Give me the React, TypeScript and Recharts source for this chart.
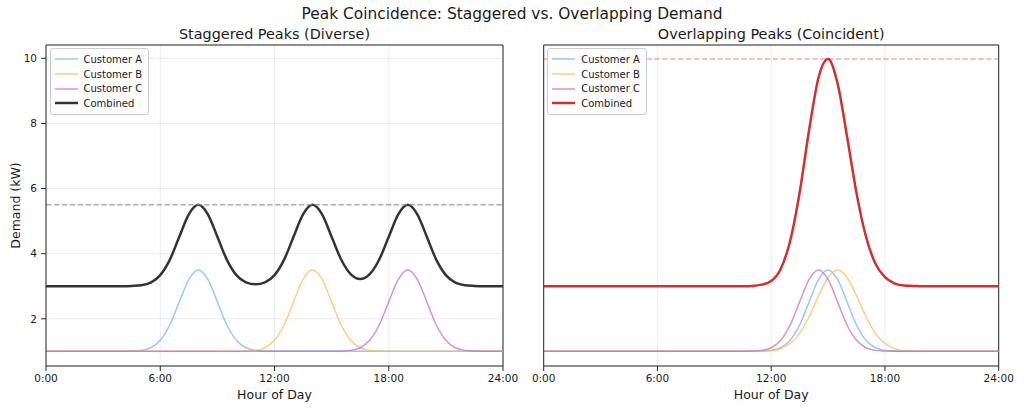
import React from 'react';
import {
  LineChart,
  Line,
  XAxis,
  YAxis,
  CartesianGrid,
  ReferenceLine,
  Legend,
} from 'recharts';

// Hour-of-day sample points (half-hour steps)
const HOURS = [
  0, 0.5, 1, 1.5, 2, 2.5, 3, 3.5,
  4, 4.5, 5, 5.5, 6, 6.5, 7, 7.5,
  8, 8.5, 9, 9.5, 10, 10.5, 11, 11.5,
  12, 12.5, 13, 13.5, 14, 14.5, 15, 15.5,
  16, 16.5, 17, 17.5, 18, 18.5, 19, 19.5,
  20, 20.5, 21, 21.5, 22, 22.5, 23, 23.5,
  24,
];

const X_TICKS = [0, 6, 12, 18, 24];
const Y_TICKS = [2, 4, 6, 8, 10];
const X_DOMAIN: [number, number] = [0, 24];
const Y_DOMAIN: [number, number] = [0.55, 10.41];

// Staggered demand (kW)
const STAG_A = [
  1, 1, 1, 1, 1, 1, 1, 1,
  1, 1.01, 1.03, 1.11, 1.34, 1.81, 2.52, 3.21,
  3.5, 3.21, 2.52, 1.81, 1.34, 1.11, 1.03, 1.01,
  1, 1, 1, 1, 1, 1, 1, 1,
  1, 1, 1, 1, 1, 1, 1, 1,
  1, 1, 1, 1, 1, 1, 1, 1,
  1,
];
const STAG_B = [
  1, 1, 1, 1, 1, 1, 1, 1,
  1, 1, 1, 1, 1, 1, 1, 1,
  1, 1, 1, 1, 1, 1.01, 1.03, 1.11,
  1.34, 1.81, 2.52, 3.21, 3.5, 3.21, 2.52, 1.81,
  1.34, 1.11, 1.03, 1.01, 1, 1, 1, 1,
  1, 1, 1, 1, 1, 1, 1, 1,
  1,
];
const STAG_C = [
  1, 1, 1, 1, 1, 1, 1, 1,
  1, 1, 1, 1, 1, 1, 1, 1,
  1, 1, 1, 1, 1, 1, 1, 1,
  1, 1, 1, 1, 1, 1, 1, 1.01,
  1.03, 1.11, 1.34, 1.81, 2.52, 3.21, 3.5, 3.21,
  2.52, 1.81, 1.34, 1.11, 1.03, 1.01, 1, 1,
  1,
];

// Overlapping demand (kW)
const OVER_A = [
  1, 1, 1, 1, 1, 1, 1, 1,
  1, 1, 1, 1, 1, 1, 1, 1,
  1, 1, 1, 1, 1, 1, 1, 1.01,
  1.03, 1.11, 1.34, 1.81, 2.52, 3.21, 3.5, 3.21,
  2.52, 1.81, 1.34, 1.11, 1.03, 1.01, 1, 1,
  1, 1, 1, 1, 1, 1, 1, 1,
  1,
];
const OVER_B = [
  1, 1, 1, 1, 1, 1, 1, 1,
  1, 1, 1, 1, 1, 1, 1, 1,
  1, 1, 1, 1, 1, 1, 1, 1.01,
  1.02, 1.08, 1.24, 1.55, 2.07, 2.71, 3.27, 3.5,
  3.27, 2.71, 2.07, 1.55, 1.24, 1.08, 1.02, 1.01,
  1, 1, 1, 1, 1, 1, 1, 1,
  1,
];
const OVER_C = [
  1, 1, 1, 1, 1, 1, 1, 1,
  1, 1, 1, 1, 1, 1, 1, 1,
  1, 1, 1, 1, 1, 1, 1.01, 1.03,
  1.11, 1.34, 1.81, 2.52, 3.21, 3.5, 3.21, 2.52,
  1.81, 1.34, 1.11, 1.03, 1.01, 1, 1, 1,
  1, 1, 1, 1, 1, 1, 1, 1,
  1,
];

const FONT = '"DejaVu Sans", Verdana, sans-serif';
const TEXT = '#1a1a1a';
const AXIS = '#262626';
const GRID = '#e6e6e6';

const COLOR_A = '#64B5F6';
const COLOR_B = '#FFB74D';
const COLOR_C = '#BA68C8';
const CUSTOMER_OPACITY = 0.7;

type Row = { hour: number; a: number; b: number; c: number; combined: number };

function buildRows(a: number[], b: number[], c: number[]): Row[] {
  return HOURS.map((hour, i) => ({
    hour,
    a: a[i],
    b: b[i],
    c: c[i],
    combined: +(a[i] + b[i] + c[i]).toFixed(3),
  }));
}

const hourLabel = (h: number) => `${h}:00`;

type LegendItem = { name: string; color: string; width: number; opacity: number };

function LegendBox({ items }: { items: LegendItem[] }) {
  return (
    <div
      style={{
        background: 'rgba(255,255,255,0.8)',
        border: '1px solid #cccccc',
        borderRadius: 3,
        padding: '3px 6px 3px 4px',
        fontFamily: FONT,
        fontSize: 10,
        color: TEXT,
        whiteSpace: 'nowrap',
      }}
    >
      {items.map((it) => (
        <div key={it.name} style={{ display: 'flex', alignItems: 'center', height: 14.7 }}>
          <svg width={23} height={6} style={{ display: 'block' }}>
            <line
              x1={0}
              x2={23}
              y1={3}
              y2={3}
              stroke={it.color}
              strokeOpacity={it.opacity}
              strokeWidth={it.width}
            />
          </svg>
          <span style={{ marginLeft: 6 }}>{it.name}</span>
        </div>
      ))}
    </div>
  );
}

type PanelProps = {
  rows: Row[];
  title: string;
  combinedColor: string;
  peakColor: string;
  peakOpacity: number;
  width: number;
  margin: { top: number; right: number; bottom: number; left: number };
  yAxisWidth: number;
  showYLabels: boolean;
};

function Panel({
  rows,
  title,
  combinedColor,
  peakColor,
  peakOpacity,
  width,
  margin,
  yAxisWidth,
  showYLabels,
}: PanelProps) {
  const peak = Math.max(...rows.map((r) => r.combined));
  const legendItems: LegendItem[] = [
    { name: 'Customer A', color: COLOR_A, width: 1.5, opacity: CUSTOMER_OPACITY },
    { name: 'Customer B', color: COLOR_B, width: 1.5, opacity: CUSTOMER_OPACITY },
    { name: 'Customer C', color: COLOR_C, width: 1.5, opacity: CUSTOMER_OPACITY },
    { name: 'Combined', color: combinedColor, width: 2.5, opacity: 1 },
  ];
  const tickStyle = { fontSize: 10.5, fill: TEXT, fontFamily: FONT };
  const plotLeft = margin.left + yAxisWidth;
  const plotWidth = width - plotLeft - margin.right;

  return (
    <div style={{ position: 'relative', width, height: 409 }}>
      <div
        style={{
          position: 'absolute',
          left: plotLeft,
          top: 26.2,
          width: plotWidth,
          textAlign: 'center',
          fontSize: 14.4,
          lineHeight: '16px',
          color: TEXT,
          whiteSpace: 'nowrap',
        }}
      >
        {title}
      </div>
      <LineChart
        width={width}
        height={409}
        data={rows}
        margin={margin}
        style={{ fontFamily: FONT }}
      >
        <CartesianGrid stroke={GRID} strokeWidth={0.8} />
        <XAxis
          dataKey="hour"
          type="number"
          domain={X_DOMAIN}
          ticks={X_TICKS}
          tickFormatter={hourLabel}
          allowDataOverflow
          height={40}
          tickSize={5}
          tickMargin={4}
          tick={tickStyle}
          stroke={AXIS}
          tickLine={{ stroke: AXIS }}
          axisLine={{ stroke: AXIS }}
          interval={0}
          label={{
            value: 'Hour of Day',
            position: 'insideBottom',
            offset: 7.5,
            fill: TEXT,
            fontSize: 12.5,
            fontFamily: FONT,
          }}
        />
        <YAxis
          type="number"
          domain={Y_DOMAIN}
          ticks={Y_TICKS}
          allowDataOverflow
          width={yAxisWidth}
          tickSize={5}
          tickMargin={4}
          tick={showYLabels ? tickStyle : false}
          tickLine={{ stroke: AXIS }}
          axisLine={{ stroke: AXIS }}
          interval={0}
          label={
            showYLabels
              ? {
                  value: 'Demand (kW)',
                  content: (props: any) => {
                    const vb = props.viewBox || { x: 0, y: 0, width: 0, height: 0 };
                    const cx = vb.x - 1;
                    const cy = vb.y + vb.height / 2;
                    return (
                      <text
                        x={cx}
                        y={cy}
                        transform={`rotate(-90 ${cx} ${cy})`}
                        textAnchor="middle"
                        dominantBaseline="central"
                        fill={TEXT}
                        fontSize={12.5}
                        fontFamily={FONT}
                      >
                        Demand (kW)
                      </text>
                    );
                  },
                }
              : undefined
          }
        />
        {/* top and right frame edges */}
        <ReferenceLine y={Y_DOMAIN[1]} stroke={AXIS} strokeWidth={1} ifOverflow="extendDomain" />
        <ReferenceLine x={X_DOMAIN[1]} stroke={AXIS} strokeWidth={1} ifOverflow="extendDomain" />
        <Line
          type="monotone"
          dataKey="a"
          name="Customer A"
          stroke={COLOR_A}
          strokeOpacity={CUSTOMER_OPACITY}
          strokeWidth={1.5}
          dot={false}
          activeDot={false}
          isAnimationActive={false}
        />
        <Line
          type="monotone"
          dataKey="b"
          name="Customer B"
          stroke={COLOR_B}
          strokeOpacity={CUSTOMER_OPACITY}
          strokeWidth={1.5}
          dot={false}
          activeDot={false}
          isAnimationActive={false}
        />
        <Line
          type="monotone"
          dataKey="c"
          name="Customer C"
          stroke={COLOR_C}
          strokeOpacity={CUSTOMER_OPACITY}
          strokeWidth={1.5}
          dot={false}
          activeDot={false}
          isAnimationActive={false}
        />
        <Line
          type="monotone"
          dataKey="combined"
          name="Combined"
          stroke={combinedColor}
          strokeWidth={2.5}
          dot={false}
          activeDot={false}
          isAnimationActive={false}
        />
        <ReferenceLine
          y={peak}
          stroke={peakColor}
          strokeOpacity={peakOpacity}
          strokeWidth={1.5}
          strokeDasharray="5.5 2.4"
        />
        <Legend
          layout="horizontal"
          verticalAlign="middle"
          align="center"
          wrapperStyle={{
            left: plotLeft + 3.5,
            top: margin.top + 3,
            width: 'auto',
            height: 'auto',
          }}
          content={() => <LegendBox items={legendItems} />}
        />
      </LineChart>
    </div>
  );
}

export default function App() {
  const staggered = buildRows(STAG_A, STAG_B, STAG_C);
  const overlapping = buildRows(OVER_A, OVER_B, OVER_C);

  return (
    <div
      style={{
        position: 'absolute',
        left: 0,
        top: 0,
        width: 1024,
        height: 409,
        background: '#ffffff',
        fontFamily: FONT,
        overflow: 'hidden',
      }}
    >
      <div
        style={{
          position: 'absolute',
          left: 0,
          top: 4.6,
          width: 1024,
          textAlign: 'center',
          fontSize: 15.4,
          lineHeight: '18px',
          color: TEXT,
          zIndex: 1,
        }}
      >
        Peak Coincidence: Staggered vs. Overlapping Demand
      </div>
      <div style={{ position: 'absolute', left: 0, top: 0 }}>
        <Panel
          rows={staggered}
          title="Staggered Peaks (Diverse)"
          combinedColor="#333333"
          peakColor="#8a8a8a"
          peakOpacity={0.7}
          width={520}
          margin={{ top: 45, right: 17, bottom: 3, left: 16 }}
          yAxisWidth={30}
          showYLabels
        />
      </div>
      <div style={{ position: 'absolute', left: 520, top: 0 }}>
        <Panel
          rows={overlapping}
          title="Overlapping Peaks (Coincident)"
          combinedColor="#D32F2F"
          peakColor="#D32F2F"
          peakOpacity={0.4}
          width={504}
          margin={{ top: 45, right: 25.3, bottom: 3, left: 3.7 }}
          yAxisWidth={20}
          showYLabels={false}
        />
      </div>
    </div>
  );
}
